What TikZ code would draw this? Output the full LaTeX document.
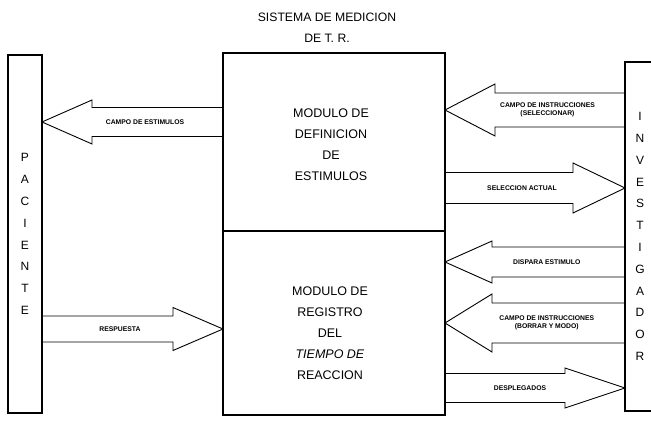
\documentclass[tikz,border=0pt]{standalone}
\usepackage{fontspec}
\setmainfont{Liberation Sans}
\usetikzlibrary{positioning, calc}

% block arrow: from, to, shaft half width, head half width, head length, label
\newcommand{\fatarrow}[6]{%
  \draw[fatline] let \p1=#1, \p2=#2, \n1={ifthenelse(\x2>\x1,1,-1)} in
    (\x1,\y1+#3) -- (\x2-\n1*#5,\y1+#3) -- (\x2-\n1*#5,\y1+#4) -- (\x2,\y1)
    -- (\x2-\n1*#5,\y1-#4) -- (\x2-\n1*#5,\y1-#3) -- (\x1,\y1-#3)
    node[fatlabel] at ({(2*\x1+2*\x2-\n1*#5)/4},\y1) {#6};
}

\begin{document}
\begin{tikzpicture}[
        x=1pt, y=1pt,
        every node/.style={font=\fontsize{12.5}{21}\selectfont},
        side/.style={draw, line width=1.1pt, outer sep=0pt, align=center, inner sep=0pt,
          font=\fontsize{12}{21.8}\selectfont},
        module/.style={draw, line width=1.1pt, outer sep=0pt, minimum width=222, inner sep=0pt},
        modtext/.style={align=center},
        fatline/.style={line width=0.9pt, line join=miter},
        fatlabel/.style={align=center, inner sep=0pt, font=\fontsize{6.8}{8.5}\selectfont\bfseries}
    ]
        \useasboundingbox (0,0) rectangle (651,426);
        \clip (0,0) rectangle (651,426);
        \fill[white] (0,0) rectangle (651,426);

        \node[side, minimum width=34, minimum height=358] (paciente) at (25,192)
            {P\\A\\C\\I\\E\\N\\T\\E};
        \node[side, minimum width=30, minimum height=349] (investigador) at (640,189.5)
            {I\\N\\V\\E\\S\\T\\I\\G\\A\\D\\O\\R};

        \node[module, minimum height=178] (defmod) at (334,284) {};
        \node[module, minimum height=184, below=0pt of defmod] (regmod) {};
        \node[modtext] (deftext) at ([xshift=-3, yshift=-3]defmod.center)
            {MODULO DE\\DEFINICION\\DE\\ESTIMULOS};
        \node[modtext] (regtext) at ([xshift=-4, yshift=-10]regmod.center)
            {MODULO DE\\REGISTRO\\DEL\\\textit{TIEMPO DE}\\REACCION};

        \node[align=center, font=\fontsize{12.2}{21}\selectfont] (titulo) at (327,398.5)
            {SISTEMA DE MEDICION\\DE T. R.};

        \fatarrow{(defmod.west |- 0,304)}{(paciente.east |- 0,304)}{14.5}{22}{50}{CAMPO DE ESTIMULOS}
        \fatarrow{(paciente.east |- 0,97)}{(regmod.west |- 0,97)}{13}{21.5}{50}{RESPUESTA}
        \fatarrow{(investigador.west |- 0,316)}{(defmod.east |- 0,316)}{17}{26}{50}{CAMPO DE INSTRUCCIONES\\(SELECCIONAR)}
        \fatarrow{(defmod.east |- 0,238)}{(investigador.west |- 0,238)}{15.5}{25}{52}{SELECCION ACTUAL}
        \fatarrow{(investigador.west |- 0,164)}{(regmod.east |- 0,164)}{15}{21}{47}{DISPARA ESTIMULO}
        \fatarrow{(investigador.west |- 0,103)}{(regmod.east |- 0,103)}{20}{29}{47}{CAMPO DE INSTRUCCIONES\\(BORRAR Y MODO)}
        \fatarrow{(regmod.east |- 0,38)}{(investigador.west |- 0,38)}{14.5}{20}{60}{DESPLEGADOS}
    \end{tikzpicture}
\end{document}
